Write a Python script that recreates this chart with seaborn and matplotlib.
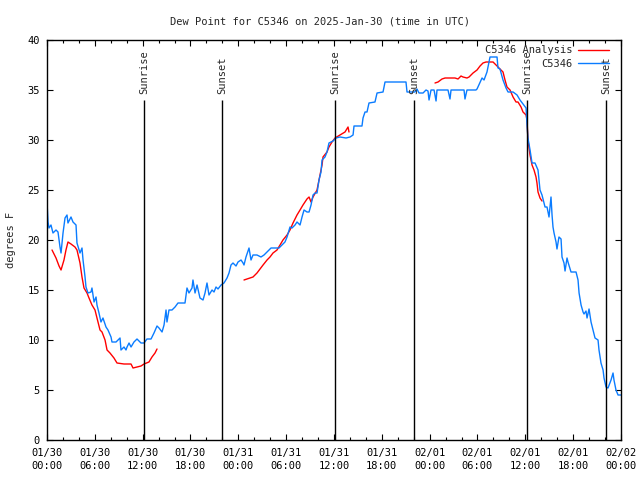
import numpy as np
import pandas as pd
import matplotlib
matplotlib.use("Agg")
import matplotlib.pyplot as plt
import matplotlib.dates as mdates
import seaborn as sns

# Години від 2025-01-30 00:00 UTC та значення точки роси (°F)
station_hours = [
    0.00, 0.13, 0.25, 0.50, 0.75, 1.13, 1.38, 1.63, 1.76, 2.01, 2.26, 2.51, 2.63, 3.01, 3.26,
    3.64, 3.76, 4.14, 4.39, 4.52, 4.77, 4.89, 5.14, 5.52, 5.64, 5.90, 6.15, 6.27, 6.52, 6.77,
    7.02, 7.40, 7.65, 8.03, 8.15, 8.66, 8.91, 9.16, 9.28, 9.66, 9.91, 10.04, 10.29, 10.54, 10.91,
    11.29, 11.79, 12.17, 12.54, 13.05, 13.42, 13.80, 14.05, 14.43, 14.68, 14.93, 15.05, 15.30,
    15.68, 16.06, 16.43, 17.31, 17.56, 17.81, 18.19, 18.31, 18.57, 18.82, 19.19, 19.57, 19.82,
    20.07, 20.32, 20.70, 20.95, 21.20, 21.45, 21.83, 22.20, 22.58, 22.83, 23.08, 23.33, 23.71,
    23.96, 24.34, 24.59, 24.71, 24.96, 25.34, 25.59, 25.84, 26.34, 26.84, 27.22, 27.60, 28.10,
    29.10, 29.48, 29.85, 30.11, 30.48, 30.73, 31.11, 31.36, 31.74, 31.99, 32.24, 32.61, 32.87,
    33.12, 33.37, 33.62, 33.87, 34.12, 34.37, 34.50, 34.87, 35.12, 35.37, 35.88, 36.25, 36.75,
    37.51, 38.01, 38.39, 38.51, 39.51, 39.64, 39.89, 40.14, 40.39, 41.14, 41.40, 42.15, 42.40,
    45.03, 45.16, 46.16, 46.41, 46.66, 47.17, 47.54, 47.79, 47.92, 48.17, 48.55, 48.80, 48.92,
    50.30, 50.55, 50.68, 52.31, 52.43, 52.68, 53.81, 53.94, 54.57, 54.82, 55.19, 55.57, 56.45,
    56.57, 56.82, 57.20, 57.58, 57.83, 58.46, 58.96, 59.33, 59.71, 60.09, 60.21, 60.33, 60.59,
    60.84, 61.21, 61.59, 61.84, 62.09, 62.47, 62.72, 62.97, 63.22, 63.35, 63.47, 63.60, 63.85,
    63.97, 64.22, 64.48, 64.60, 64.85, 64.98, 65.23, 65.35, 65.73, 66.36, 66.61, 66.74, 66.99,
    67.24, 67.36, 67.61, 67.74, 67.99, 68.24, 68.49, 68.74, 69.12, 69.24, 69.49, 69.75, 69.87,
    70.12, 70.37, 70.75, 71.00, 71.12, 71.37, 71.63, 72.00,
]
station_dew = [
    23.8, 21.8, 21.2, 21.5, 20.7, 21.0, 20.8, 19.3, 18.7, 20.7, 22.2, 22.5, 21.7, 22.3, 21.8,
    21.5, 19.7, 18.7, 19.2, 18.0, 16.3, 15.3, 14.7, 14.8, 15.2, 13.8, 14.3, 13.5, 12.7, 11.8,
    12.2, 11.3, 11.0, 10.3, 9.8, 9.8, 10.0, 10.2, 9.0, 9.3, 9.0, 9.3, 9.7, 9.3, 9.8,
    10.1, 9.7, 9.7, 10.1, 10.1, 10.7, 11.4, 11.2, 10.8, 11.5, 13.0, 11.8, 13.0,
    13.0, 13.3, 13.7, 13.7, 15.2, 14.7, 15.2, 16.0, 14.7, 15.5, 14.2, 14.0, 14.7,
    15.7, 14.5, 15.0, 14.8, 15.3, 15.1, 15.5, 15.7, 16.2, 16.7, 17.5, 17.7, 17.4,
    17.8, 18.0, 17.7, 17.5, 18.3, 19.2, 18.0, 18.5, 18.5, 18.3, 18.5, 18.8, 19.2,
    19.2, 19.5, 19.8, 20.3, 21.3, 21.2, 21.5, 21.8, 21.5, 22.3, 23.0, 22.8, 22.8,
    23.5, 24.5, 24.7, 24.7, 26.0, 26.8, 28.0, 28.3, 28.8, 29.7, 29.9, 30.2, 30.3,
    30.2, 30.3, 30.5, 31.4, 31.4, 32.2, 32.8, 32.8, 33.7, 33.8, 34.7, 34.8, 35.8,
    35.8, 34.8, 34.8, 35.1, 34.7, 34.7, 35.0, 34.9, 34.0, 35.0, 35.0, 33.9, 35.0,
    35.0, 34.1, 35.0, 35.0, 34.1, 35.0, 35.0, 35.1, 36.2, 36.0, 36.8, 38.3, 38.3,
    37.2, 37.1, 36.0, 35.2, 34.8, 34.8, 34.5, 34.0, 33.6, 33.2, 31.5, 30.2, 29.0,
    27.7, 27.7, 27.0, 25.0, 24.5, 23.3, 23.3, 22.3, 24.3, 22.5, 21.3, 20.7, 19.8,
    19.1, 20.3, 20.1, 18.3, 17.7, 16.9, 18.2, 17.8, 16.8, 16.8, 16.0, 14.7, 13.5,
    12.8, 12.6, 12.9, 12.2, 13.1, 11.8, 11.0, 10.2, 10.0, 9.0, 7.7, 7.0, 6.2,
    5.3, 5.2, 6.0, 6.7, 6.0, 5.0, 4.5, 4.5,
]

# Аналіз — три окремі відрізки
analysis_hours_1 = [0.63, 1.13, 1.51, 1.76, 2.13, 2.38, 2.63, 3.01, 3.51, 3.76, 4.14, 4.39, 4.64,
                    5.02, 5.27, 5.64, 6.02, 6.27, 6.65, 6.90, 7.28, 7.53, 7.90, 8.40, 8.78, 9.66,
                    10.54, 10.79, 11.29, 11.79, 12.17, 12.79, 13.17, 13.55, 13.80]
analysis_dew_1 = [19.0, 18.2, 17.4, 17.0, 18.0, 19.0, 19.8, 19.6, 19.3, 19.0, 17.7, 16.3, 15.2,
                  14.7, 14.2, 13.5, 13.0, 12.2, 11.0, 10.8, 10.0, 9.0, 8.7, 8.2, 7.7, 7.6,
                  7.6, 7.2, 7.3, 7.4, 7.6, 7.8, 8.3, 8.7, 9.1]
analysis_hours_2 = [24.71, 25.46, 25.84, 26.34, 26.72, 27.10, 27.60, 27.97, 28.35, 28.85, 29.23,
                    29.60, 30.11, 30.48, 30.86, 31.36, 31.74, 32.11, 32.61, 32.87, 33.12, 33.37,
                    33.87, 34.12, 34.50, 34.62, 35.12, 35.37, 35.75, 36.13, 36.75, 37.38, 37.76,
                    37.88]
analysis_dew_2 = [16.0, 16.2, 16.3, 16.7, 17.1, 17.5, 18.0, 18.3, 18.7, 19.0, 19.5,
                  20.0, 20.5, 21.0, 21.7, 22.5, 23.0, 23.5, 24.1, 24.3, 23.8, 24.3,
                  25.0, 26.0, 27.5, 28.3, 28.8, 29.3, 29.8, 30.2, 30.5, 30.8, 31.3,
                  30.8]
analysis_hours_3 = [48.67, 49.05, 49.55, 49.93, 50.55, 51.18, 51.56, 51.93, 52.18, 52.68, 52.94,
                    53.44, 53.94, 54.32, 54.69, 55.07, 55.57, 55.95, 56.45, 56.82, 57.20, 57.45,
                    57.70, 58.08, 58.46, 58.83, 59.08, 59.46, 59.71, 60.09, 60.21, 60.27, 60.33,
                    60.59, 60.84, 61.09, 61.34, 61.46, 61.59, 61.84, 62.09]
analysis_dew_3 = [35.7, 35.8, 36.1, 36.2, 36.2, 36.2, 36.1, 36.4, 36.3, 36.2, 36.3,
                  36.7, 37.0, 37.4, 37.7, 37.8, 37.8, 37.8, 37.4, 37.1, 36.8, 36.0,
                  35.3, 35.0, 34.3, 33.8, 33.8, 33.3, 32.8, 32.5, 32.0, 31.0, 30.0,
                  28.5, 27.5, 27.0, 26.3, 25.7, 24.8, 24.2, 23.9]

# Схід / захід сонця (години від початку)
sun_hours = [12.17, 21.95, 36.13, 46.04, 60.21, 70.12]
sun_labels = ["Sunrise", "Sunset", "Sunrise", "Sunset", "Sunrise", "Sunset"]

start = pd.Timestamp("2025-01-30 00:00")

frames = []
frames.append(pd.DataFrame({"hours": station_hours, "dew": station_dew,
                            "series": "C5346", "seg": 0}))
for i, (h, d) in enumerate([(analysis_hours_1, analysis_dew_1),
                            (analysis_hours_2, analysis_dew_2),
                            (analysis_hours_3, analysis_dew_3)]):
    frames.append(pd.DataFrame({"hours": h, "dew": d,
                                "series": "C5346 Analysis", "seg": i + 1}))
df = pd.concat(frames, ignore_index=True)
df["time"] = start + pd.to_timedelta(df["hours"], unit="h")

sns.set_theme(style="ticks")
plt.rcParams["font.family"] = ["DejaVu Sans Mono", "DejaVu Sans"]
plt.rcParams["font.size"] = 7.2

fig = plt.figure(figsize=(6.4, 4.8), dpi=100)
ax = fig.add_axes([47 / 640, 40 / 480, 574 / 640, 400 / 480])

palette = {"C5346 Analysis": "#ff0000", "C5346": "#0a7cff"}
sns.lineplot(data=df, x="time", y="dew", hue="series", units="seg", estimator=None,
             hue_order=["C5346 Analysis", "C5346"], palette=palette, linewidth=1.0,
             sort=False, ax=ax)

sun_times = [start + pd.Timedelta(hours=h) for h in sun_hours]
ax.vlines(sun_times, 0, 34, colors="black", linewidth=1.0)
for t, lab in zip(sun_times, sun_labels):
    ax.text(t, 34.6, lab, rotation=90, ha="center", va="bottom", fontsize=7.5)

ax.set_xlim(start, start + pd.Timedelta(hours=72))
ax.set_ylim(0, 40)
ax.set_yticks(np.arange(0, 41, 5))
ax.xaxis.set_major_locator(mdates.HourLocator(byhour=[0, 6, 12, 18]))
ax.xaxis.set_minor_locator(mdates.HourLocator(byhour=range(0, 24, 2)))
ax.xaxis.set_major_formatter(mdates.DateFormatter("%m/%d\n%H:%M"))
for lab in ax.get_xticklabels():
    lab.set_linespacing(1.35)

ax.tick_params(axis="both", which="both", direction="in", top=True, right=True,
               colors="black", labelsize=7.5)
ax.tick_params(axis="both", which="major", length=4.5, width=0.8)
ax.tick_params(axis="x", which="minor", length=2.5, width=0.8)
ax.tick_params(axis="x", which="major", pad=6)
ax.tick_params(axis="y", which="major", pad=5)
for s in ax.spines.values():
    s.set_color("black")
    s.set_linewidth(1.0)

ax.set_xlabel("")
ax.set_ylabel("degrees F", fontsize=7.5, labelpad=8)
fig.suptitle("Dew Point for C5346 on 2025-Jan-30 (time in UTC)", y=1 - 21 / 480,
             va="center", fontsize=7.5)

sns.move_legend(ax, "upper right", bbox_to_anchor=(1 - 7 / 574, 1), title=None,
                frameon=False, markerfirst=False, fontsize=7.5, handlelength=3.0,
                handletextpad=0.5, labelspacing=0.35, borderaxespad=0.3, borderpad=0.2)

fig.savefig("out.png", dpi=100)
